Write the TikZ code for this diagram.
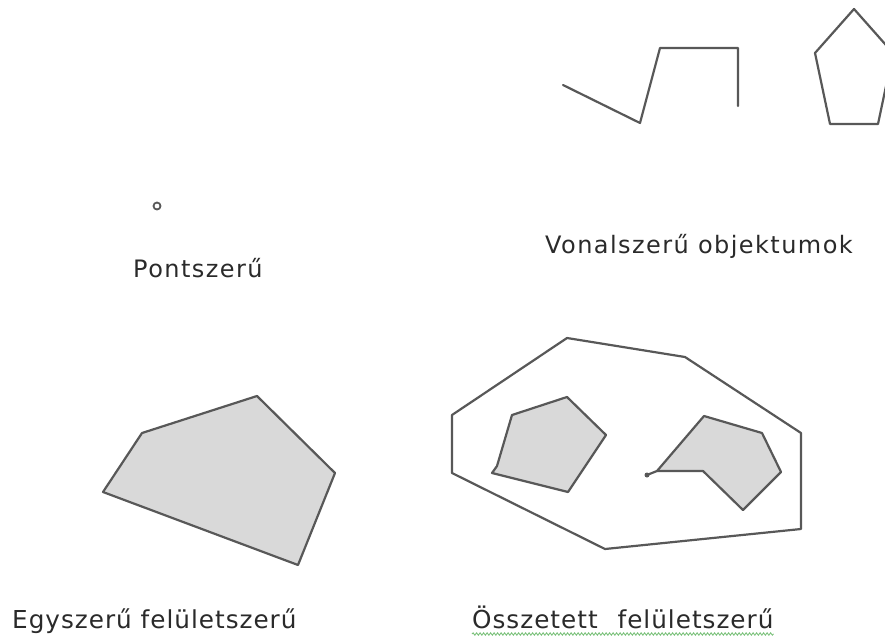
\documentclass[tikz,border=0pt]{standalone}
\usepackage{fontspec}
\setmainfont{DejaVu Sans}
\newfontfamily\toplbl[LetterSpace=6]{DejaVu Sans}
\newfontfamily\botlbl[LetterSpace=4]{DejaVu Sans}
\usetikzlibrary{decorations.pathmorphing}
\definecolor{edge}{HTML}{585858}
\definecolor{fillg}{HTML}{D9D9D9}
\definecolor{txt}{HTML}{2A2A2A}
\definecolor{spell}{HTML}{7CC27C}
\tikzset{
  outline/.style={draw=edge,line width=2.2pt,line join=round,line cap=round},
  area/.style={outline,fill=fillg},
  toptext/.style={inner sep=0pt,text=txt,font=\toplbl\fontsize{24}{28}\selectfont},
  bottext/.style={inner sep=0pt,text=txt,font=\botlbl\fontsize{24.7}{28}\selectfont},
}
\begin{document}
\begin{tikzpicture}[x=1pt,y=-1pt]
\useasboundingbox (0,0) rectangle (885,637);
\clip (0,0) rectangle (885,637);
% point object
\draw[outline,line width=1.8pt] (157,206) circle (3.5);
\node[toptext,anchor=base west] (pont) at (133,277) {Pontszerű};
% line objects
\draw[outline] (563,85) -- (640,123) -- (660,48) -- (738,48) -- (738,106);
\draw[outline] (854,9) -- (893,53) -- (878,124) -- (830,124) -- (815,53) -- cycle;
\node[toptext,anchor=base west] (vonal) at (545,253) {Vonalszerű objektumok};
% simple area
\draw[area] (257,396) -- (335,473) -- (298,565) -- (103,492) -- (142,433) -- cycle;
\node[bottext,anchor=base west] (egy) at (12,628) {Egyszerű felületszerű};
% composite area
\draw[outline] (567,338) -- (685,357) -- (801,433) -- (801,529) -- (605,549) -- (452,473) -- (452,415) -- cycle;
\draw[area] (567,397) -- (606,435) -- (568,492) -- (492,473) -- (497,466) -- (512,415) -- cycle;
\draw[area] (704,416) -- (762,433) -- (781,472) -- (743,510) -- (703,471) -- (657,471) -- cycle;
\draw[outline] (657,471) -- (647,475);
\fill[edge] (647,475) circle (2.5);
\node[bottext,anchor=base west] (ossz) at (472,628) {Összetett\hspace{0.45em} felületszerű};
\coordinate (ul1) at (472,634);
\coordinate (ul2) at (ossz.base east |- ul1);
\draw[spell,line width=0.9pt,decorate,decoration={snake,amplitude=1.2pt,segment length=3.5pt}] (ul1) -- (ul2);
\end{tikzpicture}
\end{document}
